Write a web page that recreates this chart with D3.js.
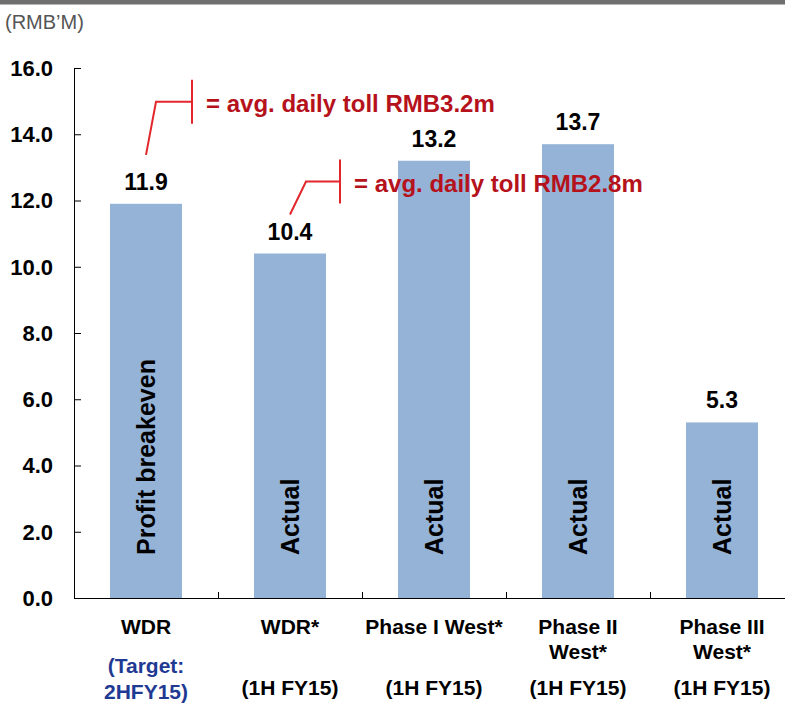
<!DOCTYPE html>
<html>
<head>
<meta charset="utf-8">
<script src="https://cdn.jsdelivr.net/npm/d3@7/dist/d3.min.js"></script>
<style>
  html, body { margin: 0; padding: 0; background: #fff; }
  svg { display: block; font-family: "Liberation Sans", Arial, sans-serif; }
</style>
</head>
<body>
<svg id="chart" width="785" height="708"></svg>
<script>
// Daily toll income by road section (RMB million)
const categories = ["WDR", "WDR*", "Phase I West*", "Phase II West*", "Phase III West*"];
const categoryLines = [["WDR"], ["WDR*"], ["Phase I West*"], ["Phase II", "West*"], ["Phase III", "West*"]];
const periodLines = [["(Target:", "2HFY15)"], ["(1H FY15)"], ["(1H FY15)"], ["(1H FY15)"], ["(1H FY15)"]];
const values = [11.9, 10.4, 13.2, 13.7, 5.3];
const barTags = ["Profit breakeven", "Actual", "Actual", "Actual", "Actual"];
const yTicks = [0, 2, 4, 6, 8, 10, 12, 14, 16];
const notes = [
  { bar: 0, text: "= avg. daily toll RMB3.2m" },
  { bar: 1, text: "= avg. daily toll RMB2.8m" }
];

const svg = d3.select("#chart");
const plotLeft = 74, plotRight = 794, plotTop = 68, plotBottom = 598;

const x = d3.scaleBand().domain(categories).range([plotLeft, plotRight]).paddingInner(0.5).paddingOuter(0.25);
const y = d3.scaleLinear().domain([0, 16]).range([plotBottom, plotTop]);

// header rule
svg.append("rect").attr("x", 0).attr("y", 0).attr("width", 785).attr("height", 4.5).attr("fill", "#6f6f6f");

svg.append("text").attr("x", 5).attr("y", 29)
  .attr("font-size", 20).attr("fill", "#555")
  .text("(RMB\u2019M)");

// bars
svg.append("g").selectAll("rect").data(values).join("rect")
  .attr("x", (d, i) => x(categories[i]))
  .attr("y", d => y(d))
  .attr("width", x.bandwidth())
  .attr("height", d => y(0) - y(d))
  .attr("fill", "#95b3d7");

// y axis
const yAxis = svg.append("g").attr("transform", `translate(${plotLeft},0)`)
  .call(d3.axisRight(y).tickValues(yTicks).tickSize(7).tickFormat(""));
yAxis.select(".domain").attr("d", `M0.5,${plotTop}V${plotBottom}`).attr("stroke", "#000");
yAxis.selectAll(".tick line").attr("stroke", "#000");

svg.append("g").selectAll("text").data(yTicks).join("text")
  .attr("x", 53).attr("y", d => y(d))
  .attr("dy", "0.36em")
  .attr("text-anchor", "end")
  .attr("font-size", 22).attr("font-weight", "bold").attr("fill", "#000")
  .text(d => d.toFixed(1));

// x axis with ticks between categories
const xAxis = svg.append("g").attr("transform", `translate(0,${plotBottom})`);
xAxis.append("line").attr("x1", plotLeft).attr("x2", 785).attr("y1", 0.5).attr("y2", 0.5).attr("stroke", "#000");
xAxis.selectAll("line.sep").data(categories.slice(1)).join("line")
  .attr("class", "sep")
  .attr("x1", d => x(d) - x.bandwidth() / 2 + 0.5)
  .attr("x2", d => x(d) - x.bandwidth() / 2 + 0.5)
  .attr("y1", 0).attr("y2", -6).attr("stroke", "#000");

// value labels
svg.append("g").selectAll("text").data(values).join("text")
  .attr("x", (d, i) => x(categories[i]) + x.bandwidth() / 2)
  .attr("y", d => y(d) - 14)
  .attr("text-anchor", "middle")
  .attr("font-size", 23).attr("font-weight", "bold").attr("fill", "#000")
  .text(d => d.toFixed(1));

// vertical tags inside bars
svg.append("g").selectAll("text").data(barTags).join("text")
  .attr("transform", (d, i) => `translate(${x(categories[i]) + x.bandwidth() / 2},555) rotate(-90)`)
  .attr("dy", "0.36em")
  .attr("font-size", 25).attr("font-weight", "bold").attr("fill", "#000")
  .text(d => d);

// category labels
const cx = i => x(categories[i]) + x.bandwidth() / 2;
categoryLines.forEach((lines, i) => {
  lines.forEach((ln, j) => {
    svg.append("text").attr("x", cx(i)).attr("y", 634 + j * 25)
      .attr("text-anchor", "middle").attr("font-size", 21).attr("font-weight", "bold").attr("fill", "#000")
      .text(ln);
  });
});
periodLines.forEach((lines, i) => {
  const target = lines.length > 1;
  lines.forEach((ln, j) => {
    svg.append("text").attr("x", cx(i)).attr("y", (target ? 673 : 695) + j * 26)
      .attr("text-anchor", "middle").attr("font-size", 21).attr("font-weight", "bold")
      .attr("fill", target ? "#1f3a93" : "#000")
      .text(ln);
  });
});

// toll callouts: leader from above the value label, elbow, bracket and text
notes.forEach((n, k) => {
  const bx = cx(n.bar);
  const v = values[n.bar];
  const startY = y(v) - (k === 0 ? 49 : 39);
  const elbowY = startY - (k === 0 ? 53 : 33);
  const elbowX = bx + (k === 0 ? 10 : 16);
  const barX = bx + (k === 0 ? 46 : 50);
  const g = svg.append("g").attr("stroke", "#e2272c").attr("stroke-width", 2).attr("fill", "none");
  g.append("path").attr("d", `M${bx},${startY}L${elbowX},${elbowY}H${barX}`);
  g.append("line").attr("x1", barX).attr("x2", barX).attr("y1", elbowY - 22).attr("y2", elbowY + 22);
  svg.append("text").attr("x", barX + 14).attr("y", elbowY + 10)
    .attr("font-size", 24).attr("font-weight", "bold").attr("fill", "#b5121b")
    .text(n.text);
});
</script>
</body>
</html>
